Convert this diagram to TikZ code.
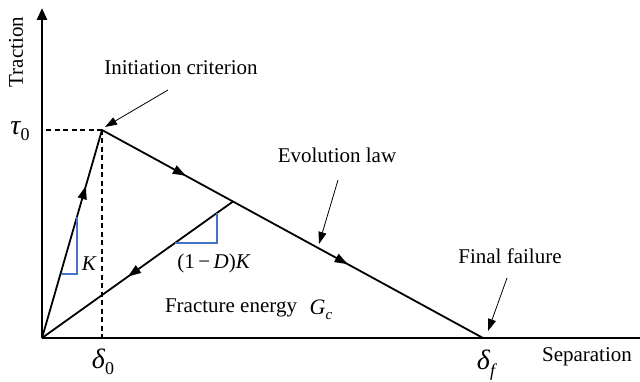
\documentclass[tikz,border=0pt]{standalone}
\usepackage{fontspec}
\setmainfont{Liberation Serif}
\usetikzlibrary{arrows.meta,decorations.markings}
\definecolor{slopeblue}{RGB}{68,114,196}
\begin{document}
\begin{tikzpicture}[x=1pt,y=-1pt,
  lbl/.style={font=\fontsize{21}{25}\selectfont, inner sep=0pt},
  sym/.style={font=\fontsize{28}{32}\selectfont, inner sep=0pt},
  axisline/.style={line width=2.6pt},
  curve/.style={line width=1.8pt},
  note/.style={line width=0.8pt, -{Triangle[length=12pt,width=8pt]}},
  dashline/.style={line width=1.3pt, dash pattern=on 5pt off 3.5pt},
  slope/.style={draw=slopeblue, line width=1.3pt},
  midarrow/.style={postaction={decorate, decoration={markings,
      mark=at position #1 with {\arrow{Triangle[length=13pt,width=9pt]}}}}}
]
\useasboundingbox (0,0) rectangle (640,382);

% key points
\coordinate (O) at (42,338);
\coordinate (P) at (102,130);
\coordinate (F) at (483,338);
\coordinate (U) at (233,201.5);
\coordinate (Ytop) at (42,8);
\coordinate (Xend) at (640,338);

% axes
\draw[axisline, -{Triangle[length=12pt,width=10pt]}] (O) -- (Ytop);
\draw[axisline] (O) -- (Xend);

% dashed guides
\draw[dashline] (P) -- (P |- O);
\draw[dashline] (P) -- (O |- P);

% traction-separation law
\draw[curve, midarrow=0.73] (O) -- (P);
\draw[curve, midarrow=0.22, midarrow=0.645] (P) -- (F);
\draw[curve, midarrow=0.55] (U) -- (O);

% slope triangles
\draw[slope] (60.5,274) -- (77,274) -- (77,216.7);
\draw[slope] (175,243) -- (217,243) -- (217,213);

% labels
\node[lbl, rotate=90] (trac) at (16,52) {Traction};
\node[lbl] (sep) at (587,357) {Separation};
\node[sym] (tau) at (20,131) {\itshape τ\raisebox{-0.45ex}{\upshape\fontsize{18}{18}\selectfont 0}};
\node[sym] (d0) at (103,362) {\itshape δ\raisebox{-0.5ex}{\upshape\fontsize{18}{18}\selectfont 0}};
\node[sym] (df) at (486,365) {\itshape δ\raisebox{-0.6ex}{\fontsize{18}{18}\selectfont f}};
\node[lbl] (kl) at (89,264) {\itshape K};
\node[lbl] (dk) at (214,263) {(1\,−\,\textit{D})\textit{K}};
\node[lbl] (frac) at (231,308) {Fracture energy};
\node[lbl, font=\fontsize{22}{26}\selectfont] (gc) at (321,310) {\itshape G\raisebox{-0.45ex}{\fontsize{15}{15}\selectfont c}};

\node[lbl] (init) at (181,68) {Initiation criterion};
\node[lbl] (evo) at (337,155) {Evolution law};
\node[lbl] (fin) at (510,256) {Final failure};

% annotation arrows
\coordinate (ia) at (168,90);
\coordinate (ib) at (105,127);
\coordinate (ea) at (338,180);
\coordinate (eb) at (319,244);
\coordinate (fa) at (507,278);
\coordinate (fb) at (488,331);
\draw[note] (ia) -- (ib);
\draw[note] (ea) -- (eb);
\draw[note] (fa) -- (fb);
\end{tikzpicture}
\end{document}
